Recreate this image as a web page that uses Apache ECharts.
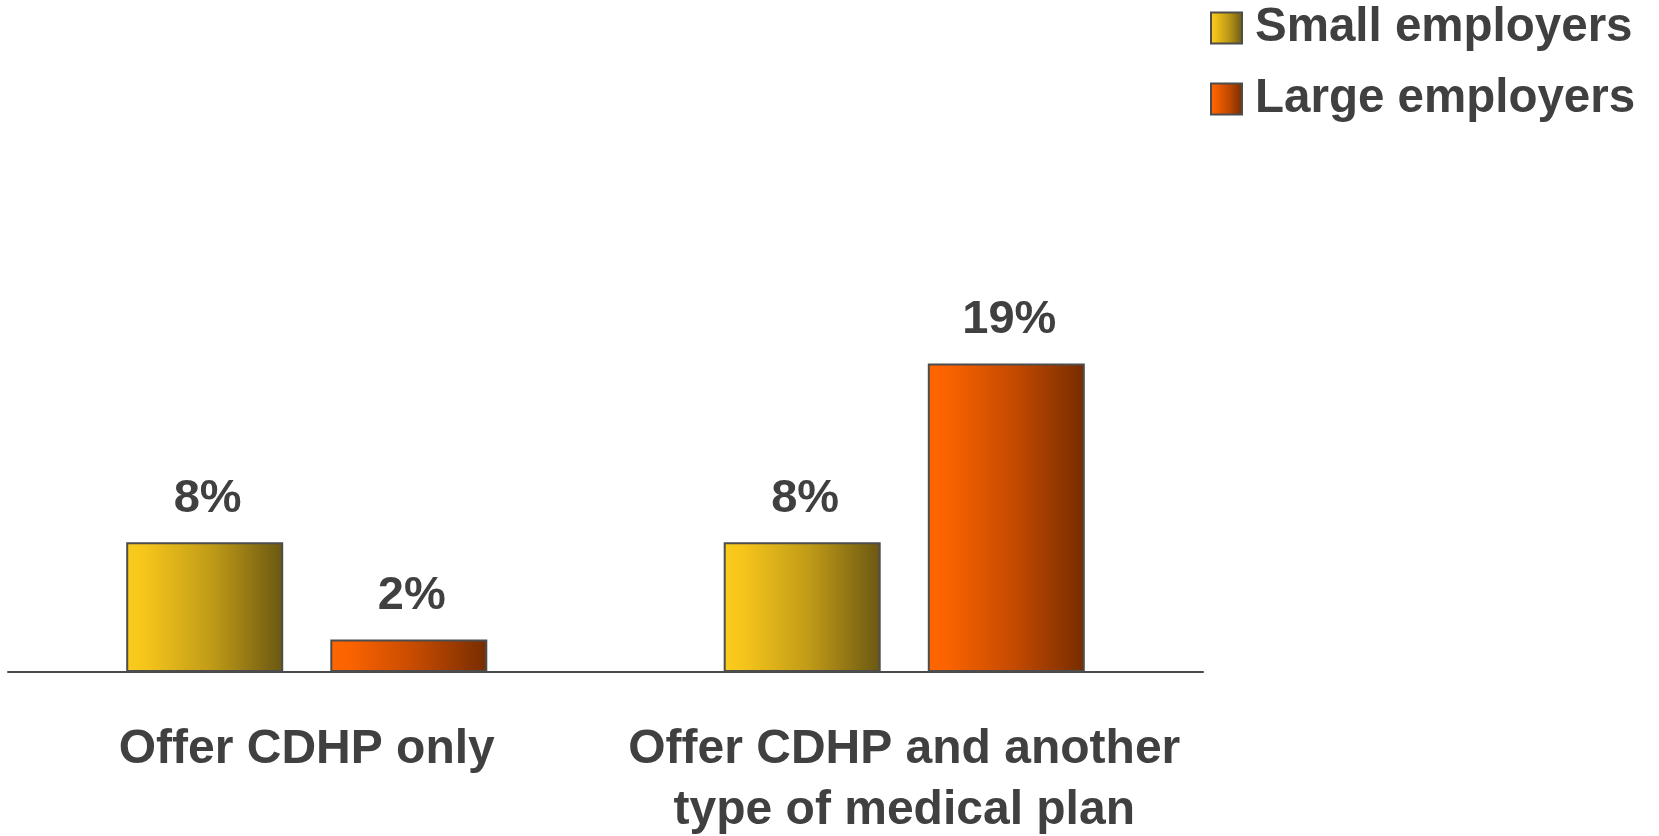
<!DOCTYPE html>
<html>
<head>
<meta charset="utf-8">
<title>CDHP offerings by employer size</title>
<script src="https://cdn.jsdelivr.net/npm/echarts@6/dist/echarts.min.js"></script>
<style>
  html, body { margin: 0; padding: 0; background: #ffffff; overflow: hidden; }
  #chart { width: 1659px; height: 836px; }
</style>
</head>
<body>
<div id="chart"></div>
<script>
// Share of employers offering a consumer-directed health plan (CDHP)
const categories = ['Offer CDHP only', 'Offer CDHP and another\ntype of medical plan'];
const seriesNames = ['Small employers', 'Large employers'];
const smallEmployers = [8, 8];
const largeEmployers = [2, 19];

const FONT = "'Liberation Sans', Arial, Helvetica, sans-serif";
const TEXT = '#404040';

function hGradient(stops) {
  return new echarts.graphic.LinearGradient(0, 0, 1, 0,
    stops.map(([offset, color]) => ({ offset, color })));
}

const smallFill = hGradient([[0, '#FACB1C'], [0.12, '#F6C51B'], [0.55, '#BF9A17'], [1, '#6A5712']]);
const largeFill = hGradient([[0, '#FF6600'], [0.12, '#FB6300'], [0.55, '#C44A00'], [1, '#762C00']]);

const labelStyle = {
  show: true,
  position: 'top',
  distance: 20,
  offset: [3, 0],
  formatter: '{c}%',
  fontFamily: FONT,
  fontSize: 47,
  fontWeight: 'bold',
  color: TEXT
};

const chart = echarts.init(document.getElementById('chart'), null, { renderer: 'canvas' });

chart.setOption({
  backgroundColor: '#ffffff',
  animation: false,
  grid: {
    left: 8, right: 456, top: 185, bottom: 164,
    containLabel: false,
    outerBoundsMode: 'none'
  },
  legend: {
    orient: 'vertical',
    left: 1210,
    top: 4,
    padding: 0,
    itemWidth: 31,
    itemHeight: 31,
    itemGap: 23,
    selectedMode: false,
    icon: 'rect',
    textStyle: {
      fontFamily: FONT,
      fontSize: 47.5,
      lineHeight: 47,
      fontWeight: 'bold',
      color: TEXT,
      padding: [0, 0, 0, 8]
    },
    data: seriesNames
  },
  xAxis: {
    type: 'category',
    data: categories,
    axisLine: { show: true, lineStyle: { color: '#4a4a4a', width: 2 } },
    axisTick: { show: false },
    axisLabel: {
      interval: 0,
      margin: 47,
      fontFamily: FONT,
      fontSize: 48,
      fontWeight: 'bold',
      color: TEXT,
      lineHeight: 61
    }
  },
  yAxis: {
    type: 'value',
    min: 0,
    max: 30,
    show: false,
    splitLine: { show: false }
  },
  series: [
    {
      name: seriesNames[0],
      type: 'bar',
      data: smallEmployers,
      barWidth: 157,
      barGap: '30%',
      itemStyle: { color: smallFill, borderColor: '#4d4d4d', borderWidth: 2 },
      label: labelStyle
    },
    {
      name: seriesNames[1],
      type: 'bar',
      data: largeEmployers,
      barWidth: 157,
      barGap: '30%',
      itemStyle: { color: largeFill, borderColor: '#4d4d4d', borderWidth: 2 },
      label: labelStyle
    }
  ]
});
</script>
</body>
</html>
